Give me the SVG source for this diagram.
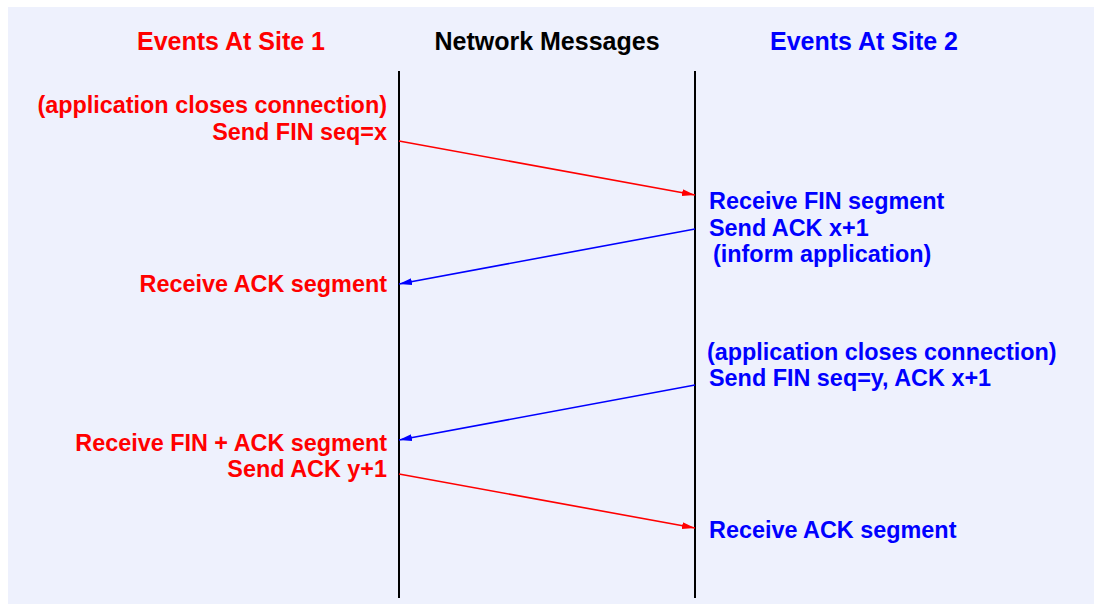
<svg xmlns="http://www.w3.org/2000/svg" width="1094" height="604" viewBox="0 0 1094 604">
<style>
text{font-family:"Liberation Sans",Arial,sans-serif;font-weight:bold;font-size:23.4px}
.t{font-size:25px}
.r{fill:#ff0000}
.b{fill:#0000ff}
.k{fill:#000000}
.e{text-anchor:end}
.m{text-anchor:middle}
.life{stroke:#000;stroke-width:2;fill:none}
.ar{stroke:#ff0000;stroke-width:1.6;fill:none}
.ab{stroke:#0000ff;stroke-width:1.6;fill:none}
</style>
<defs>
<marker id="hr" markerUnits="userSpaceOnUse" markerWidth="14" markerHeight="10" refX="13" refY="5" orient="auto"><path d="M0,1.5 L13,5 L0,8.5 z" fill="#ff0000"/></marker>
<marker id="hb" markerUnits="userSpaceOnUse" markerWidth="14" markerHeight="10" refX="13" refY="5" orient="auto"><path d="M0,1.5 L13,5 L0,8.5 z" fill="#0000ff"/></marker>
</defs>
<rect x="0" y="0" width="1094" height="604" fill="#ffffff"/>
<rect x="8" y="7" width="1086" height="597" fill="#eef1fd"/>
<g id="headers">
<text class="t r m" x="231" y="50">Events At Site 1</text>
<text class="t k m" x="547" y="50">Network Messages</text>
<text class="t b m" x="864" y="50">Events At Site 2</text>
</g>
<g id="lifelines">
<line class="life" x1="399" y1="71" x2="399" y2="598"/>
<line class="life" x1="695" y1="71" x2="695" y2="598"/>
</g>
<g id="site1">
<text class="r e" x="387" y="113">(application closes connection)</text>
<text class="r e" x="387" y="140">Send FIN seq=x</text>
<text class="r e" x="387" y="292">Receive ACK segment</text>
<text class="r e" x="387" y="451">Receive FIN + ACK segment</text>
<text class="r e" x="387" y="477">Send ACK y+1</text>
</g>
<g id="site2">
<text class="b" x="709" y="209">Receive FIN segment</text>
<text class="b" x="709" y="236">Send ACK x+1</text>
<text class="b" x="713" y="262">(inform application)</text>
<text class="b" x="707" y="360">(application closes connection)</text>
<text class="b" x="709" y="386">Send FIN seq=y, ACK x+1</text>
<text class="b" x="709" y="538">Receive ACK segment</text>
</g>
<g id="connectors">
<line class="ar" x1="399" y1="141" x2="695" y2="195" marker-end="url(#hr)"/>
<line class="ab" x1="695" y1="229" x2="399" y2="284" marker-end="url(#hb)"/>
<line class="ab" x1="695" y1="385" x2="399" y2="440" marker-end="url(#hb)"/>
<line class="ar" x1="399" y1="474" x2="695" y2="528" marker-end="url(#hr)"/>
</g>
</svg>
